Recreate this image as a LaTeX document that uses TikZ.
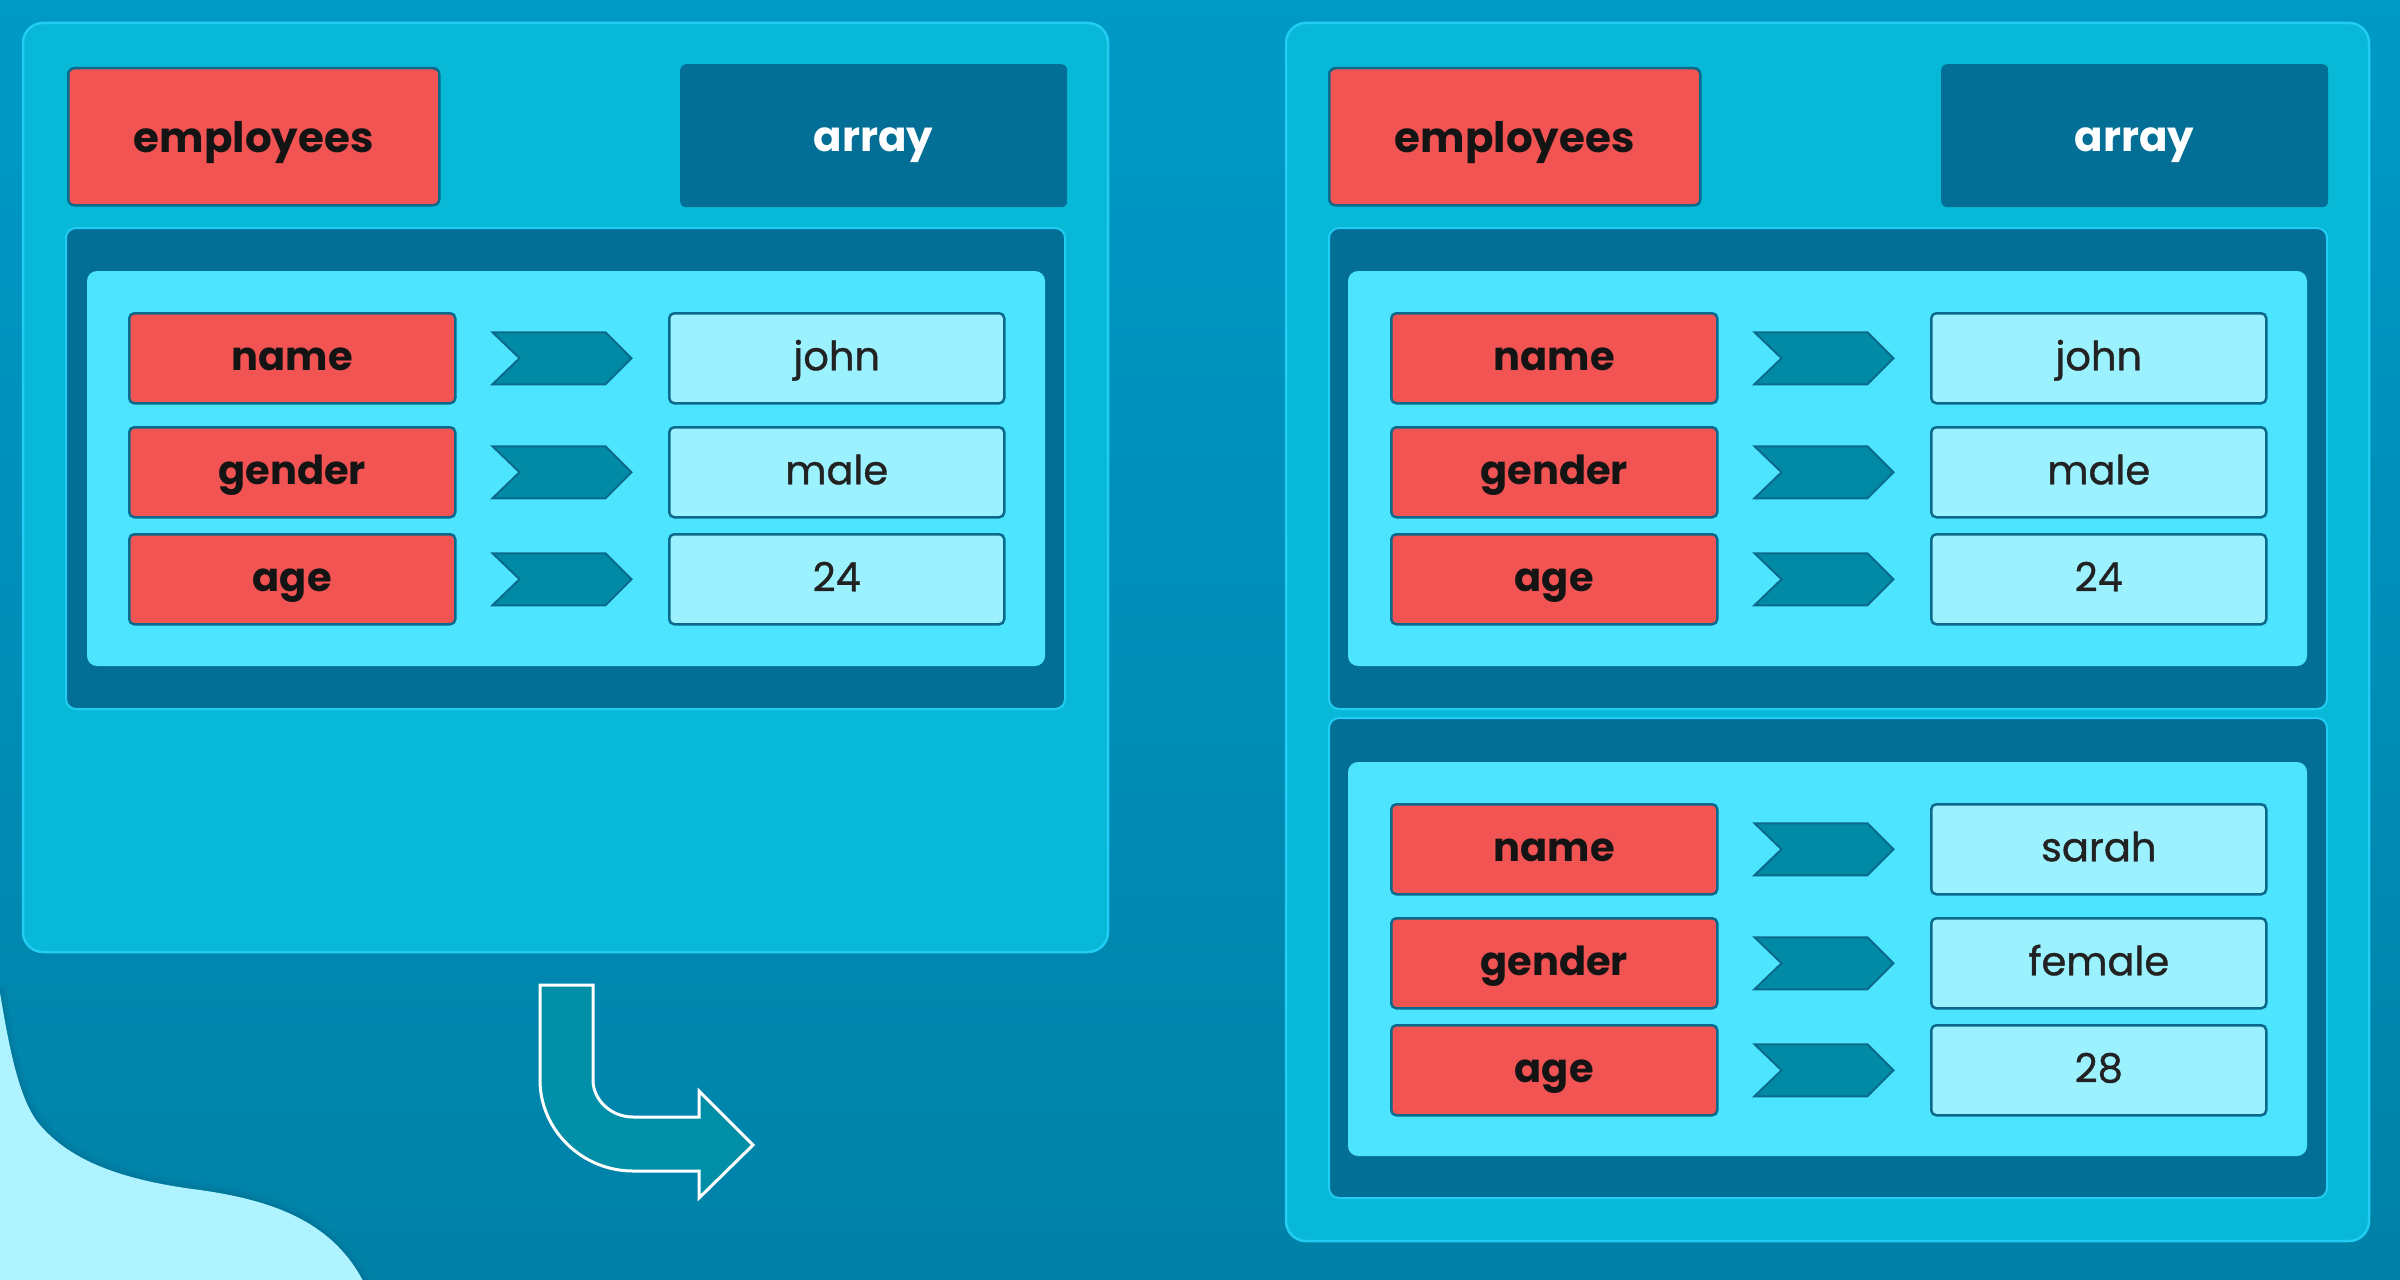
\documentclass[tikz,border=0pt]{standalone}
\usepackage{fontspec}
\setmainfont{Poppins}
\newfontfamily\valfont{Poppins}[FakeBold=0.9]
\definecolor{bgtop}{HTML}{009AC7}
\definecolor{bgbot}{HTML}{0081A7}
\definecolor{panel}{HTML}{07B9D7}
\definecolor{paneledge}{HTML}{22CCF2}
\definecolor{darkbox}{HTML}{046F96}
\definecolor{innerfill}{HTML}{4DE4FF}
\definecolor{keyred}{HTML}{F25454}
\definecolor{valfill}{HTML}{9CF1FF}
\definecolor{edge}{HTML}{0B6A8B}
\definecolor{chev}{HTML}{008AA5}
\definecolor{arrowfill}{HTML}{008FA6}
\definecolor{blob}{HTML}{AEF3FF}
\definecolor{blobedge}{HTML}{06607F}
\definecolor{ink}{HTML}{141414}
\definecolor{valink}{HTML}{222222}
\tikzset{
  panelbox/.style={fill=panel, draw=paneledge, line width=2.5pt, rounded corners=20pt},
  darkfill/.style={fill=darkbox, draw=paneledge, line width=2pt, rounded corners=10pt},
  innerbox/.style={fill=innerfill, rounded corners=10pt},
  keybox/.style={rectangle, fill=keyred, draw=edge, line width=2.5pt, rounded corners=5pt,
    minimum width=326pt, minimum height=90pt, inner sep=0pt, text=ink,
    font=\bfseries\fontsize{40}{48}\selectfont, text height=30pt, text depth=6pt},
  valbox/.style={rectangle, fill=valfill, draw=edge, line width=2.5pt, rounded corners=5pt,
    minimum width=335pt, minimum height=90pt, inner sep=0pt, text=valink,
    font=\valfont\fontsize{40}{48}\selectfont, text height=30pt, text depth=6pt},
  headred/.style={rectangle, fill=keyred, draw=edge, line width=2.5pt, rounded corners=6pt,
    minimum width=371pt, minimum height=137pt, inner sep=0pt, text=ink,
    font=\bfseries\fontsize{42}{50}\selectfont, text height=38pt, text depth=6pt},
  headdark/.style={rectangle, fill=darkbox, rounded corners=6pt,
    minimum width=387pt, minimum height=143pt, inner sep=0pt, text=white,
    font=\bfseries\fontsize{42}{50}\selectfont, text height=38pt, text depth=6pt},
  chevshape/.style={fill=chev, draw=edge, line width=2pt, line join=miter},
  bigarrow/.style={fill=arrowfill, draw=white, line width=3pt, line join=miter}
}
% #1 id, #2 key x, #3 top y, #4 key text, #5 value text
\newcommand{\kvrow}[5]{%
  \node[keybox, anchor=north west] (#1k) at (#2,#3) {#4};
  \node[valbox, anchor=north west] (#1v) at ({#2+540},#3) {#5};
  \draw[chevshape] ([xshift=36pt,yshift=26pt]#1k.east) -- ++(113,0) -- ++(26,26)
     -- ++(-26,26) -- ++(-113,0) -- ++(27,-26) -- cycle;
}
% #1 id, #2 key x, #3 inner top y, #4 name, #5 gender, #6 age
\newcommand{\onerecord}[6]{%
  \kvrow{#1a}{#2}{#3+41}{name}{#4}
  \kvrow{#1b}{#2}{#3+155}{gender}{#5}
  \kvrow{#1c}{#2}{#3+262}{age}{#6}
}
\newcommand{\blobpath}{(-10,993) -- (0,993) .. controls (8,1040) and (18,1100) .. (40,1125)
  .. controls (70,1160) and (120,1180) .. (200,1190)
  .. controls (270,1200) and (330,1220) .. (362,1279) -- (370,1295) -- (-10,1295) -- cycle}
\begin{document}
\begin{tikzpicture}[x=1pt, y=-1pt]
\useasboundingbox (0,0) rectangle (2400,1279);
\shade[top color=bgtop, bottom color=bgbot] (-10,-10) rectangle (2410,1290);
% light blob lower left, with a soft darker halo outside
\draw[blobedge, draw opacity=0.12, line width=14pt] \blobpath;
\draw[blobedge, draw opacity=0.18, line width=6pt] \blobpath;
\fill[blob] \blobpath;

% ---------- left panel ----------
\draw[panelbox] (23,23) rectangle (1108,952);
\node[headred, anchor=north west] (empL) at (67,67) {employees};
\node[headdark, anchor=north west] (arrL) at (680,64) {array};
\draw[darkfill] (66,228) rectangle (1065,709);
\fill[innerbox] (87,271) rectangle (1045,666);
\onerecord{L}{128}{271}{john}{male}{24}

% ---------- right panel ----------
\draw[panelbox] (1286,23) rectangle (2369,1241);
\node[headred, anchor=north west] (empR) at (1328,67) {employees};
\node[headdark, anchor=north west] (arrR) at (1941,64) {array};
\draw[darkfill] (1329,228) rectangle (2327,709);
\fill[innerbox] (1348,271) rectangle (2307,666);
\onerecord{R}{1390}{271}{john}{male}{24}
\draw[darkfill] (1329,718) rectangle (2327,1198);
\fill[innerbox] (1348,762) rectangle (2307,1156);
\onerecord{S}{1390}{762}{sarah}{female}{28}

% ---------- bent arrow ----------
\draw[bigarrow] (540,985) -- (593,985) -- (593,1080)
  .. controls (593,1100) and (611,1117) .. (633,1117)
  -- (699,1117) -- (699,1091) -- (753,1145) -- (699,1198) -- (699,1171) -- (633,1171)
  .. controls (582,1171) and (540,1130) .. (540,1080) -- cycle;
\end{tikzpicture}
\end{document}
